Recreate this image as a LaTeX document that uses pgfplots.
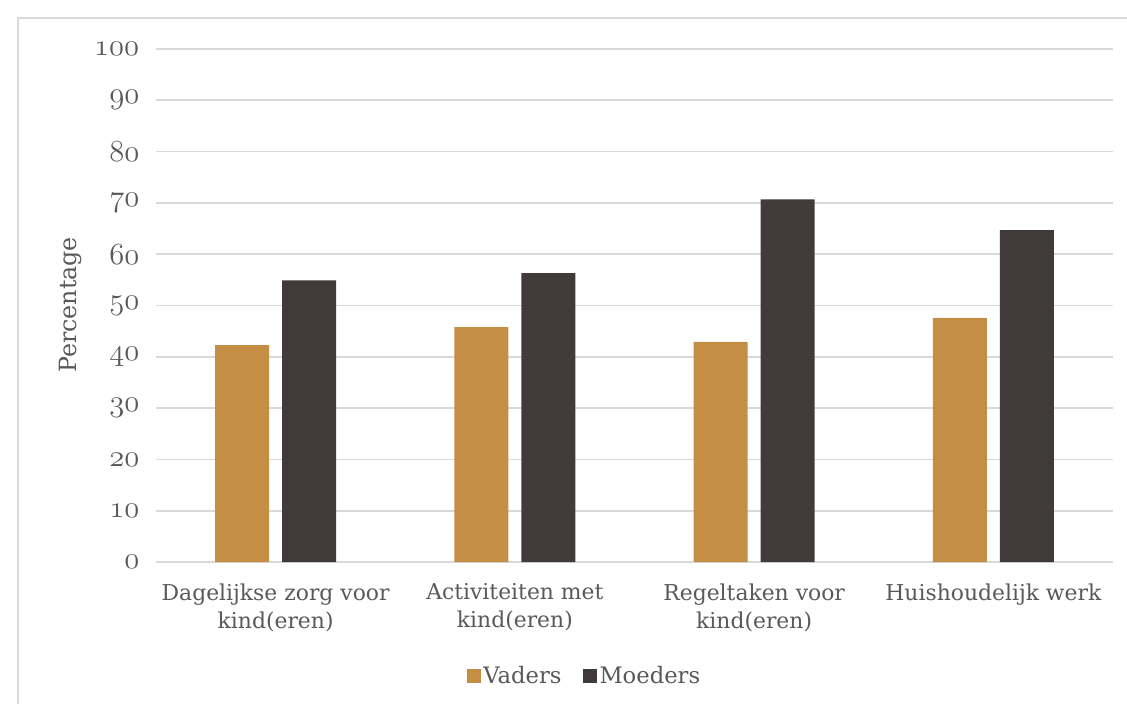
\RequirePackage{fix-cm}
\documentclass[border=0pt]{standalone}
\usepackage{pgfplots}
\pgfplotsset{compat=1.18}
\usepackage{fontspec}
\setmainfont{DejaVu Serif}
\definecolor{vad}{HTML}{C48F45}
\definecolor{moe}{HTML}{403A3A}
\definecolor{txt}{HTML}{595959}
\definecolor{grd}{HTML}{D9D9D9}
\newcommand{\osf}[1]{$\mathnormal{#1}$}
\begin{document}
\begin{tikzpicture}[x=0.75pt,y=0.75pt]
\useasboundingbox (0,0) rectangle (1127,704);
\draw[grd,line width=1.2pt] (18,0) -- (18,686) -- (1127,686);
\node[rotate=90,text=txt,font=\fontsize{17.8}{21}\selectfont] at (70,399) {Percentage};
\begin{axis}[
  at={(117pt,106.5pt)},anchor=south west,
  scale only axis,width=717.75pt,height=384.75pt,
  xmin=-0.5,xmax=3.5,ymin=0,ymax=100,
  ybar=9.75pt,bar width=40.5pt,
  axis x line*=bottom,axis y line*=left,
  y axis line style={draw=none},
  x axis line style={grd,line width=1.2pt,-},
  ytick={0,10,...,100},
  yticklabels={\osf{0},\osf{10},\osf{20},\osf{30},\osf{40},\osf{50},\osf{60},\osf{70},\osf{80},\osf{90},\osf{100}},
  ytick style={draw=none},
  yticklabel style={text=txt,font=\fontsize{23}{26}\selectfont,xshift=-9pt},
  ymajorgrids,
  major grid style={grd,line width=1.2pt},
  xtick={0,1,2,3},
  xtick style={draw=none},
  xticklabels={{Dagelijkse zorg voor\\kind(eren)},{Activiteiten met\\kind(eren)},{Regeltaken voor\\kind(eren)},{Huishoudelijk werk}},
  xticklabel style={text=txt,font=\fontsize{16.4}{21}\selectfont,align=center,anchor=north,yshift=-8.5pt},
  extra x ticks={-0.5,0.5,1.5,2.5,3.5},
  extra x tick labels={},
  extra x tick style={grid=none,tick style={draw=grd,line width=1.2pt},major tick length=4.5pt,tick align=outside},
  legend style={at={(0.448,-0.222)},anchor=center,draw=none,legend columns=2,
    font=\fontsize{17}{20}\selectfont,text=txt,
    /tikz/every even column/.append style={column sep=14pt}},
  legend image code/.code={\fill[#1] (0pt,-5pt) rectangle (10.5pt,5pt);},
]
\addplot[fill=vad,draw=none] coordinates {(0,42.3) (1,45.8) (2,42.9) (3,47.6)};
\addplot[fill=moe,draw=none] coordinates {(0,54.9) (1,56.3) (2,70.7) (3,64.7)};
\legend{Vaders,Moeders}
\end{axis}
\end{tikzpicture}
\end{document}
